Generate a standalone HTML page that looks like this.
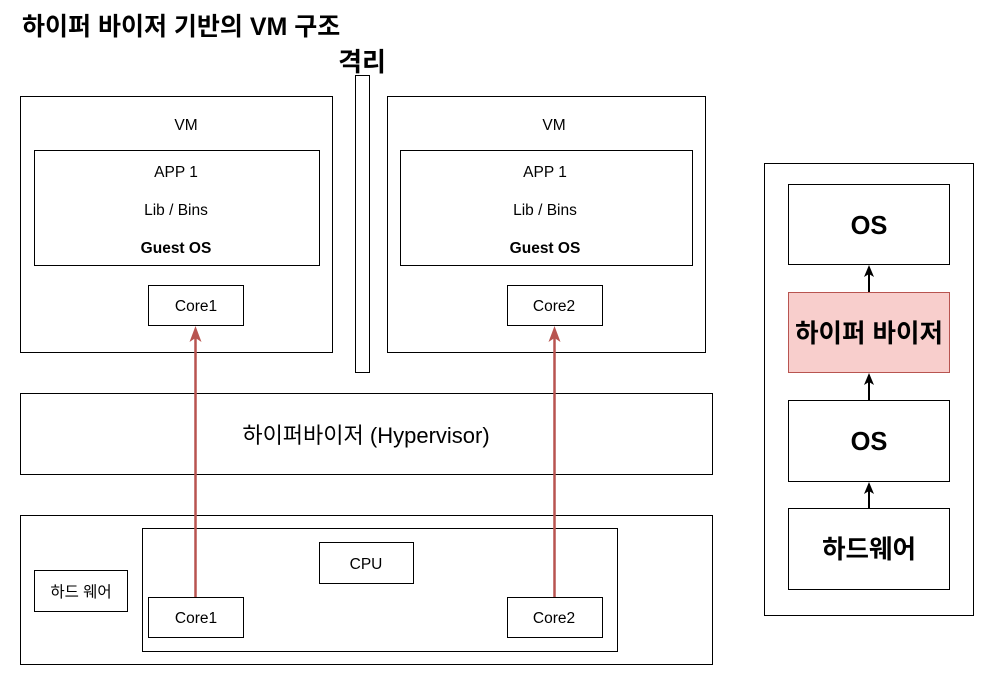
<!DOCTYPE html>
<html><head><meta charset="utf-8"><style>body{margin:0;background:#fff}</style></head><body>
<svg width="990" height="690" xmlns="http://www.w3.org/2000/svg" font-family="Liberation Sans, Noto Sans CJK KR, sans-serif">
<g fill="#fff" stroke="#000" stroke-width="1">
<rect x="20.5" y="96.5" width="312" height="256"/>
<rect x="34.5" y="150.5" width="285" height="115"/>
<rect x="148.5" y="285.5" width="95" height="40"/>
<rect x="387.5" y="96.5" width="318" height="256"/>
<rect x="400.5" y="150.5" width="292" height="115"/>
<rect x="507.5" y="285.5" width="95" height="40"/>
<rect x="355.5" y="75.5" width="14" height="297"/>
<rect x="20.5" y="393.5" width="692" height="81"/>
<rect x="20.5" y="515.5" width="692" height="149"/>
<rect x="142.5" y="528.5" width="475" height="123"/>
<rect x="319.5" y="542.5" width="94" height="41"/>
<rect x="148.5" y="597.5" width="95" height="40"/>
<rect x="507.5" y="597.5" width="95" height="40"/>
<rect x="34.5" y="570.5" width="93" height="41"/>
<rect x="764.5" y="163.5" width="209" height="452"/>
<rect x="788.5" y="184.5" width="161" height="80"/>
<rect x="788.5" y="292.5" width="161" height="80" fill="#f8cecc" stroke="#b85450"/>
<rect x="788.5" y="400.5" width="161" height="81"/>
<rect x="788.5" y="508.5" width="161" height="81"/>
</g>
<g stroke="#b85450" stroke-width="2.5">
<line x1="195.5" y1="597" x2="195.5" y2="336"/>
<line x1="554.5" y1="597" x2="554.5" y2="336"/>
</g>
<g fill="#b85450">
<path d="M195.5,326 L201.5,342 L195.5,338 L189.5,342 Z"/>
<path d="M554.5,326 L560.5,342 L554.5,338 L548.5,342 Z"/>
</g>
<g stroke="#000" stroke-width="2">
<line x1="869" y1="292" x2="869" y2="272"/>
<line x1="869" y1="400" x2="869" y2="380"/>
<line x1="869" y1="508" x2="869" y2="488"/>
</g>
<g fill="#000">
<path d="M869,265 L874,277 L869,274 L864,277 Z"/>
<path d="M869,373 L874,385 L869,382 L864,385 Z"/>
<path d="M869,482 L874,494 L869,491 L864,494 Z"/>
</g>
<g text-anchor="middle" font-size="15.5" fill="#000">
<text x="186" y="130">VM</text>
<text x="176" y="177">APP 1</text>
<text x="176" y="215">Lib / Bins</text>
<text x="176" y="253" font-weight="bold">Guest OS</text>
<text x="196" y="311">Core1</text>
<text x="554" y="130">VM</text>
<text x="545" y="177">APP 1</text>
<text x="545" y="215">Lib / Bins</text>
<text x="545" y="253" font-weight="bold">Guest OS</text>
<text x="554" y="311">Core2</text>
<text x="366" y="443" font-size="22">하이퍼바이저 (Hypervisor)</text>
<text x="366" y="569">CPU</text>
<text x="196" y="623">Core1</text>
<text x="554" y="623">Core2</text>
<text x="81" y="597">하드 웨어</text>
<g font-size="25.5" font-weight="bold">
<text x="869" y="234">OS</text>
<text x="869" y="342">하이퍼 바이저</text>
<text x="869" y="450">OS</text>
<text x="869" y="558">하드웨어</text>
</g>
<text x="362" y="71" font-size="26" font-weight="bold">격리</text>
</g>
<text x="22" y="35" font-size="25" font-weight="bold">하이퍼 바이저 기반의 VM 구조</text>
</svg>
</body></html>
